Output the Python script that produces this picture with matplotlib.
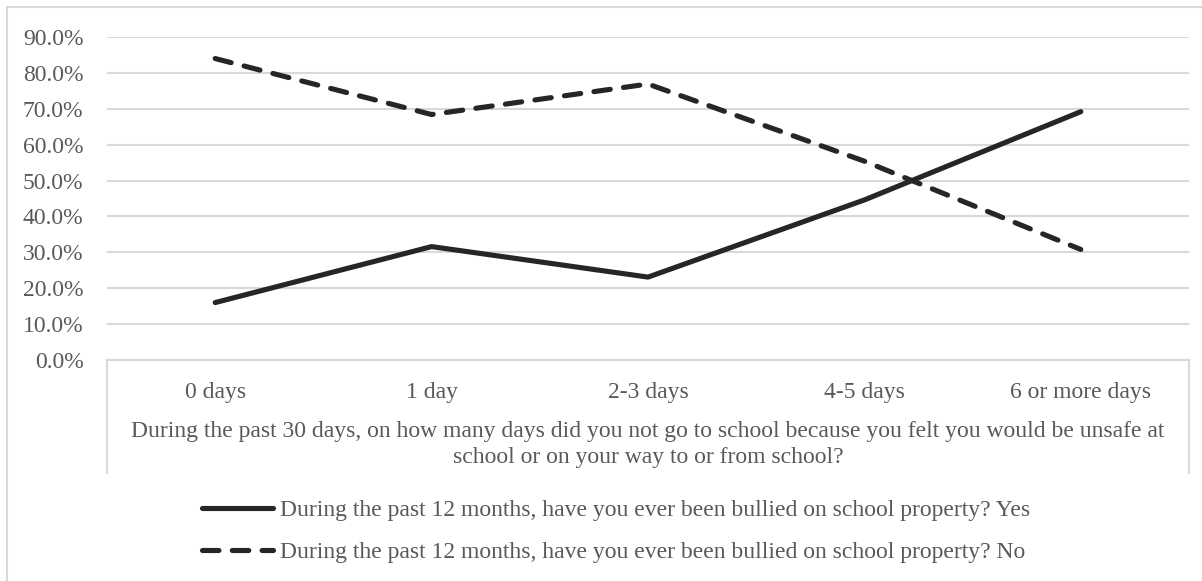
import matplotlib
matplotlib.use("Agg")
import matplotlib.pyplot as plt
from matplotlib.lines import Line2D
from matplotlib.patches import Rectangle

# data
categories = ["0 days", "1 day", "2-3 days", "4-5 days", "6 or more days"]
yes_pct = [16.0, 31.6, 23.1, 44.6, 69.2]
no_pct = [84.0, 68.4, 76.9, 55.4, 30.8]
yticks = [0, 10, 20, 30, 40, 50, 60, 70, 80, 90]

label_yes = "During the past 12 months, have you ever been bullied on school property? Yes"
label_no = "During the past 12 months, have you ever been bullied on school property? No"
xtitle = ("During the past 30 days, on how many days did you not go to school because you felt you would be unsafe at\n"
          "school or on your way to or from school?")

plt.rcParams["font.family"] = ["Liberation Serif", "DejaVu Serif"]
text_col = "#595959"
grid_col = "#d9d9d9"
line_col = "#262626"
fs = 17

W, H = 1202, 581
fig = plt.figure(figsize=(W / 100, H / 100), dpi=100)
ax = fig.add_axes([107 / W, (H - 360) / H, (1189 - 107) / W, (360 - 37) / H])

x = list(range(len(categories)))
ax.plot(x, yes_pct, color=line_col, linewidth=3.7, solid_capstyle="round",
        solid_joinstyle="round", label=label_yes)
ax.plot(x, no_pct, color=line_col, linewidth=3.7, linestyle=(0, (3.2, 2.6)),
        dash_capstyle="round", dash_joinstyle="round", label=label_no)

ax.set_xlim(-0.5, len(categories) - 0.5)
ax.set_ylim(0, 90)
ax.set_yticks(yticks)
ax.set_yticklabels([f"{v:.1f}%" for v in yticks])
ax.set_xticks(x)
ax.set_xticklabels(categories)
ax.tick_params(axis="y", length=0, pad=17, labelsize=fs, labelcolor=text_col)
ax.tick_params(axis="x", length=0, pad=15.5, labelsize=fs, labelcolor=text_col)
ax.grid(axis="y", color=grid_col, linewidth=1.5)
ax.set_axisbelow(True)
for s in ["left", "right", "top"]:
    ax.spines[s].set_visible(False)
ax.spines["bottom"].set_color(grid_col)
ax.spines["bottom"].set_linewidth(1.5)

# box around the category axis area
drop = (473 - 360) / (360 - 37)
for xx in (0, 1):
    ax.add_line(Line2D([xx, xx], [0, -drop], transform=ax.transAxes, color=grid_col,
                       linewidth=1.5, clip_on=False))

ax.set_xlabel(xtitle, fontsize=fs, color=text_col, linespacing=1.27, labelpad=13.5)

# outer chart border (cropped on right and bottom)
fig.add_artist(Rectangle((7 / W, -0.1), 1.2, 1.1 - 7 / H, transform=fig.transFigure,
                         fill=False, edgecolor=grid_col, linewidth=1.5))

fig.legend(loc="center", bbox_to_anchor=((195 + 1037) / 2 / W, (H - 531.5) / H),
           frameon=False, fontsize=fs, labelcolor=text_col, handlelength=3.0,
           handletextpad=0.27, labelspacing=0.87)

fig.savefig("out.png", dpi=100)
